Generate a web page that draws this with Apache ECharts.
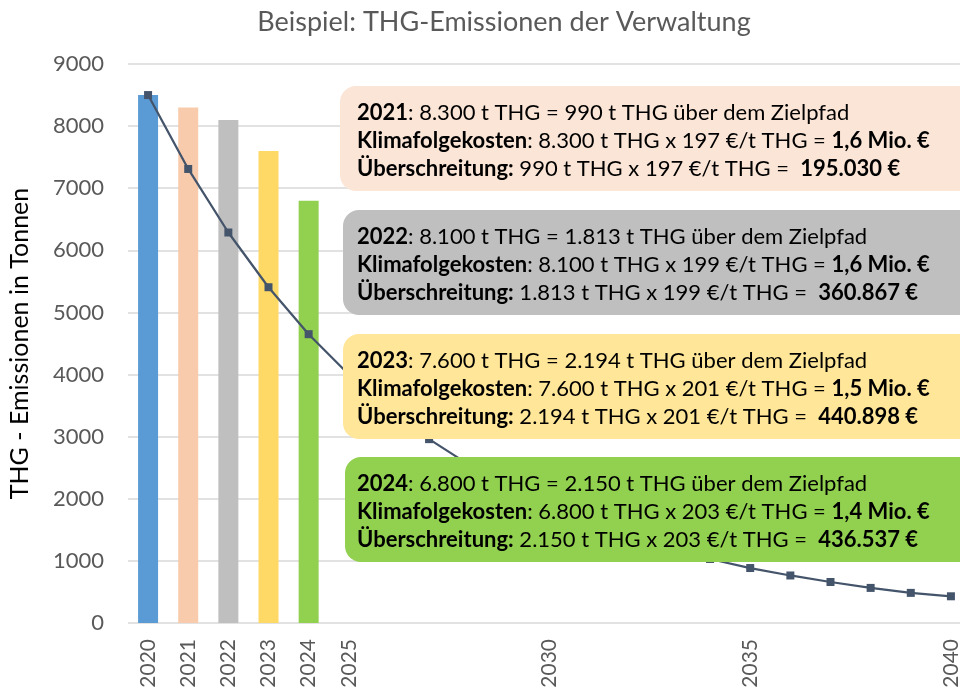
<!DOCTYPE html>
<html>
<head>
<meta charset="utf-8">
<script src="https://cdn.jsdelivr.net/npm/echarts@6/dist/echarts.min.js"></script>
<style>
  html, body { margin: 0; padding: 0; background: #fff; }
  #chart { width: 960px; height: 695px; }
</style>
</head>
<body>
<div id="chart"></div>
<script>
// Years on the category axis
const years = ["2020", "2021", "2022", "2023", "2024", "2025", "2026", "2027", "2028", "2029",
    "2030", "2031", "2032", "2033", "2034", "2035", "2036", "2037", "2038", "2039", "2040"];
// Actual emissions (bars), 2020-2024
const actual = [8500, 8300, 8100, 7600, 6800];
const barColors = ["#5B9BD5", "#F8CBAD", "#BFBFBF", "#FFD966", "#92D050"];
// Target path (line)
const target = [8500, 7310, 6287, 5406, 4650, 4000, 3440, 2960, 2545, 2190,
    1880, 1620, 1390, 1200, 1030, 885, 765, 660, 565, 485, 430];
// Labelled years on the x axis
const shownYears = ["2020", "2021", "2022", "2023", "2024", "2025", "2030", "2035", "2040"];

// Annotation boxes
const boxTexts = [
    ["{b|2021}: 8.300 t THG = 990 t THG über dem Zielpfad",
     "{b|Klimafolgekosten}: 8.300 t THG x 197 €/t THG = {b|1,6 Mio. €}",
     "{b|Überschreitung:} 990 t THG x 197 €/t THG =  {b|195.030 €}"],
    ["{b|2022}: 8.100 t THG = 1.813 t THG über dem Zielpfad",
     "{b|Klimafolgekosten}: 8.100 t THG x 199 €/t THG = {b|1,6 Mio. €}",
     "{b|Überschreitung:} 1.813 t THG x 199 €/t THG =  {b|360.867 €}"],
    ["{b|2023}: 7.600 t THG = 2.194 t THG über dem Zielpfad",
     "{b|Klimafolgekosten}: 7.600 t THG x 201 €/t THG = {b|1,5 Mio. €}",
     "{b|Überschreitung:} 2.194 t THG x 201 €/t THG =  {b|440.898 €}"],
    ["{b|2024}: 6.800 t THG = 2.150 t THG über dem Zielpfad",
     "{b|Klimafolgekosten}: 6.800 t THG x 203 €/t THG = {b|1,4 Mio. €}",
     "{b|Überschreitung:} 2.150 t THG x 203 €/t THG =  {b|436.537 €}"],
];
const boxColors = ["#FBE5D6", "#BFBFBF", "#FFE699", "#92D050"];
const boxTops = [86, 210, 334, 457];
const boxLefts = [340, 343, 343, 345];

const FONT = "Lato, 'Open Sans', sans-serif";

const chart = echarts.init(document.getElementById("chart"));

const graphics = [];
boxTexts.forEach((lines, i) => {
    graphics.push({
        type: "rect",
        left: boxLefts[i],
        top: boxTops[i],
        z: 100,
        shape: { width: 640, height: 105, r: 16 },
        style: { fill: boxColors[i] },
    });
    graphics.push({
        type: "text",
        left: 357,
        top: boxTops[i] + 13,
        z: 101,
        style: {
            text: lines.join("\n"),
            font: "22px " + FONT,
            fill: "#000",
            lineHeight: 28,
            rich: {
                b: { fontWeight: "bold", fontSize: 22, fontFamily: FONT, fill: "#000", lineHeight: 28 },
            },
        },
    });
});

chart.setOption({
    animation: false,
    title: {
        text: "Beispiel: THG-Emissionen der Verwaltung",
        left: 499,
        textAlign: "center",
        top: 4,
        textStyle: { color: "#595959", fontSize: 27, fontWeight: "normal", fontFamily: FONT },
    },
    grid: { left: 128, top: 64, bottom: 72, width: 843, outerBoundsMode: "none", containLabel: false },
    xAxis: {
        type: "category",
        data: years,
        boundaryGap: true,
        axisLine: { show: false },
        axisTick: { show: false },
        axisLabel: {
            rotate: 90,
            interval: 0,
            margin: 16,
            color: "#595959",
            fontSize: 21,
            fontFamily: FONT,
            formatter: (v) => (shownYears.includes(v) ? v : ""),
        },
    },
    yAxis: {
        type: "value",
        min: 0,
        max: 9000,
        interval: 1000,
        name: "THG - Emissionen in Tonnen",
        nameLocation: "middle",
        nameGap: 96,
        nameTextStyle: { color: "#000", fontSize: 25, fontFamily: FONT },
        axisLine: { show: false },
        axisTick: { show: false },
        axisLabel: { color: "#595959", fontSize: 22, fontFamily: FONT, margin: 24, formatter: (v) => String(v) },
        splitLine: { lineStyle: { color: "#D9D9D9", width: 1.5 } },
    },
    series: [
        {
            name: "Ist",
            type: "bar",
            barWidth: 20,
            data: actual.map((v, i) => ({ value: v, itemStyle: { color: barColors[i] } })),
        },
        {
            name: "Zielpfad",
            type: "line",
            data: target,
            symbol: "rect",
            symbolSize: 8,
            itemStyle: { color: "#44546A" },
            lineStyle: { color: "#44546A", width: 2.25 },
            z: 5,
        },
    ],
    graphic: graphics,
});
</script>
</body>
</html>
